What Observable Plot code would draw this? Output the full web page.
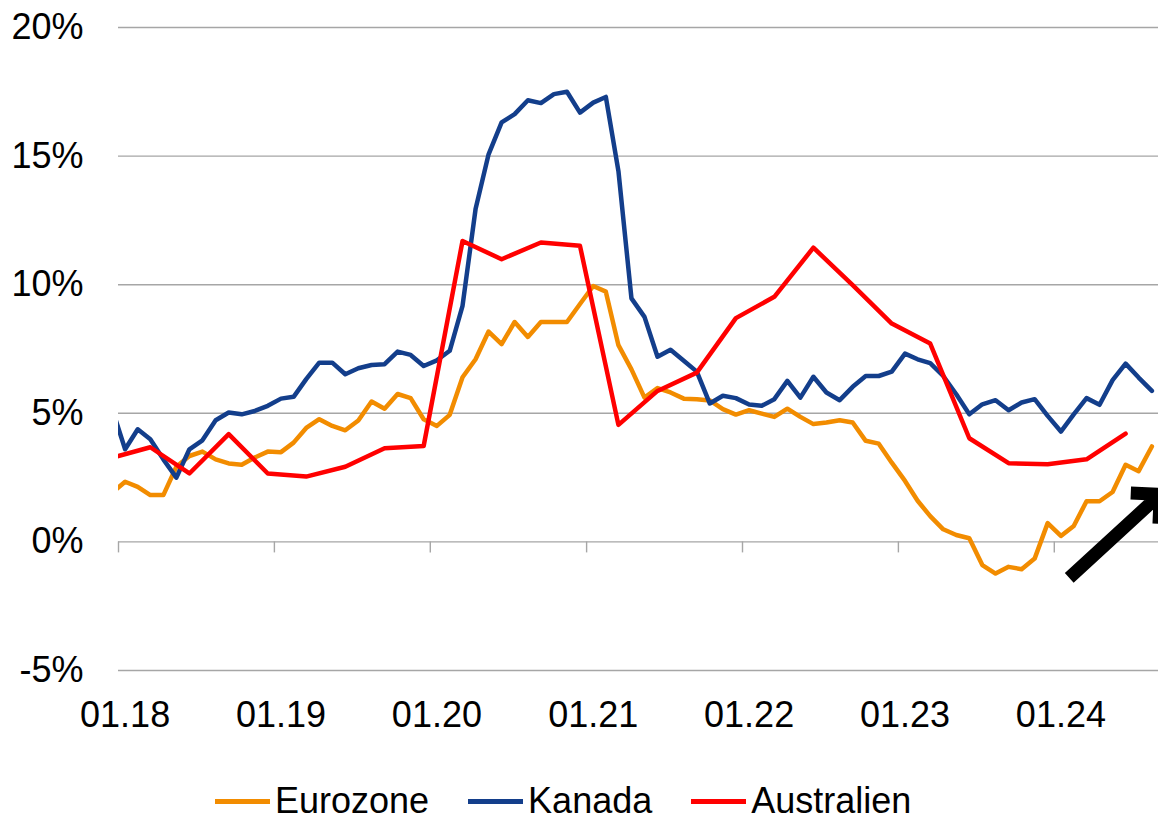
<!DOCTYPE html>
<html>
<head>
<meta charset="utf-8">
<script src="https://cdn.jsdelivr.net/npm/d3@7"></script>
<script src="https://cdn.jsdelivr.net/npm/@observablehq/plot@0.6"></script>
<style>
  body { margin: 0; background: #fff; font-family: "Liberation Sans", Arial, sans-serif; }
  #legend { display: flex; align-items: center; height: 40px; margin-top: 21px; padding-left: 215px; font-size: 36px; color: #000; }
  .item { display: flex; align-items: center; margin-right: 39px; }
  .sw { width: 55px; height: 5px; margin-right: 5px; }
</style>
</head>
<body>
<div id="chart"></div>
<div id="legend"></div>
<script>
// ---- data ----
const seriesNames = ["Eurozone", "Kanada", "Australien"];
const seriesColors = ["#f28c00", "#133e8b", "#ff0000"];

// monthly values, first value = Dec 2017, last = Aug 2024
const monthlyStart = [2017, 11];
const eurozone = [
  1.9,
  2.34, 2.14, 1.82, 1.82, 2.92, 3.34, 3.51, 3.21, 3.05, 3.0, 3.28, 3.51,
  3.49, 3.86, 4.43, 4.77, 4.51, 4.34, 4.72, 5.46, 5.18, 5.75, 5.59, 4.77,
  4.51, 4.94, 6.4, 7.1, 8.18, 7.69, 8.55, 7.97, 8.55, 8.55, 8.55, 9.25,
  9.95, 9.73, 7.65, 6.71, 5.61, 5.98, 5.81, 5.57, 5.55, 5.5, 5.16, 4.95,
  5.12, 4.99, 4.86, 5.18, 4.86, 4.58, 4.64, 4.73, 4.64, 3.93, 3.82, 3.08,
  2.37, 1.6, 1.0, 0.49, 0.27, 0.14, -0.9, -1.23, -0.97, -1.06, -0.65, 0.73,
  0.23, 0.62, 1.58, 1.58, 1.94, 3.0, 2.75, 3.71
];
const kanada = [
  5.2,
  3.6, 4.38, 3.99, 3.21, 2.5, 3.6, 3.95, 4.73, 5.03, 4.96, 5.09, 5.29,
  5.57, 5.64, 6.33, 6.97, 6.97, 6.52, 6.75, 6.88, 6.91, 7.4, 7.27, 6.84,
  7.06, 7.43, 9.18, 12.94, 15.07, 16.31, 16.63, 17.17, 17.06, 17.41, 17.5, 16.69,
  17.08, 17.3, 14.42, 9.47, 8.75, 7.2, 7.47, 7.04, 6.62, 5.38, 5.68, 5.59,
  5.34, 5.29, 5.55, 6.26, 5.61, 6.42, 5.81, 5.51, 6.03, 6.45, 6.45, 6.62,
  7.32, 7.1, 6.95, 6.45, 5.74, 4.96, 5.35, 5.51, 5.12, 5.42, 5.55, 4.9,
  4.29, 4.96, 5.59, 5.33, 6.29, 6.93, 6.39, 5.87
];
// quarterly values (quarter-end months), first = Dec 2017, last = Jun 2024
const quarterlyStart = [2017, 11];
const australien = [
  3.27,
  3.68, 2.66, 4.19, 2.66,
  2.54, 2.92, 3.64, 3.73,
  11.7, 10.99, 11.64, 11.51,
  4.55, 5.87, 6.58, 8.7,
  9.53, 11.44, 9.98, 8.49,
  7.71, 4.03, 3.06, 3.02,
  3.21, 4.21
];

const yTicks = [-5, 0, 5, 10, 15, 20];
const xTickLabels = ["01.18", "01.19", "01.20", "01.21", "01.22", "01.23", "01.24"];
const xDomain = [[2018, 0], [2024, 8]];

// annotation arrow (start / end as [year, month, day, value])
const arrowFrom = [2024, 1, 5, -1.40];
const arrowTo = [2024, 8, 5, 1.85];

// ---- helpers ----
function monthCenter(y, m) {
  const a = Date.UTC(y, m, 1), b = Date.UTC(y, m + 1, 1);
  return new Date((a + b) / 2);
}
function build(values, start, step) {
  return values.map((v, k) => ({date: monthCenter(start[0], start[1] + k * step), value: v}));
}
const euroData = build(eurozone, monthlyStart, 1);
const kanData = build(kanada, monthlyStart, 1);
const ausData = build(australien, quarterlyStart, 3);

const tickYears = xTickLabels.map(s => 2000 + +s.split(".")[1]);
const tickMonths = xTickLabels.map(s => +s.split(".")[0] - 1);
const tickLinePos = tickYears.map((y, i) => new Date(Date.UTC(y, tickMonths[i], 1)));
const tickLabelPos = tickYears.map((y, i) => monthCenter(y, tickMonths[i]));
const labelMap = new Map(tickLabelPos.map((d, i) => [+d, xTickLabels[i]]));

const arrowData = [{
  x1: new Date(Date.UTC(arrowFrom[0], arrowFrom[1], arrowFrom[2])), y1: arrowFrom[3],
  x2: new Date(Date.UTC(arrowTo[0], arrowTo[1], arrowTo[2])), y2: arrowTo[3]
}];

const grid = "#a6a6a6";

const chart = Plot.plot({
  width: 1158,
  height: 760,
  marginLeft: 118,
  marginRight: 0,
  marginTop: 27,
  marginBottom: 90,
  style: {fontFamily: "'Liberation Sans', Arial, sans-serif", fontSize: "36px", color: "#000", background: "#fff"},
  x: {
    type: "utc",
    domain: [new Date(Date.UTC(...xDomain[0], 1)), new Date(Date.UTC(...xDomain[1], 1))],
    ticks: tickLabelPos,
    tickFormat: d => labelMap.get(+d),
    tickSize: 0,
    tickPadding: 31,
    label: null
  },
  y: {
    domain: [yTicks[0], yTicks[yTicks.length - 1]],
    ticks: yTicks,
    tickFormat: d => `${d}%`,
    tickSize: 0,
    tickPadding: 35,
    label: null
  },
  marks: [
    Plot.ruleY(yTicks, {stroke: grid, strokeWidth: 1.4}),
    Plot.ruleX(tickLinePos, {x: d => d, y1: 0, y2: 0, insetBottom: -11, stroke: grid, strokeWidth: 1.4}),
    Plot.line(euroData, {x: "date", y: "value", stroke: seriesColors[0], strokeWidth: 4.5, clip: true}),
    Plot.line(kanData, {x: "date", y: "value", stroke: seriesColors[1], strokeWidth: 4.5, clip: true}),
    Plot.line(ausData, {x: "date", y: "value", stroke: seriesColors[2], strokeWidth: 4.5, clip: true}),
    Plot.arrow(arrowData, {x1: "x1", y1: "y1", x2: "x2", y2: "y2", stroke: "#000", strokeWidth: 13, headLength: 3.4, headAngle: 90, strokeLinecap: "butt", strokeLinejoin: "miter"})
  ]
});
document.getElementById("chart").appendChild(chart);

const legend = document.getElementById("legend");
seriesNames.forEach((name, i) => {
  const item = document.createElement("div");
  item.className = "item";
  const sw = document.createElement("span");
  sw.className = "sw";
  sw.style.background = seriesColors[i];
  const t = document.createElement("span");
  t.textContent = name;
  item.appendChild(sw);
  item.appendChild(t);
  legend.appendChild(item);
});
</script>
</body>
</html>
